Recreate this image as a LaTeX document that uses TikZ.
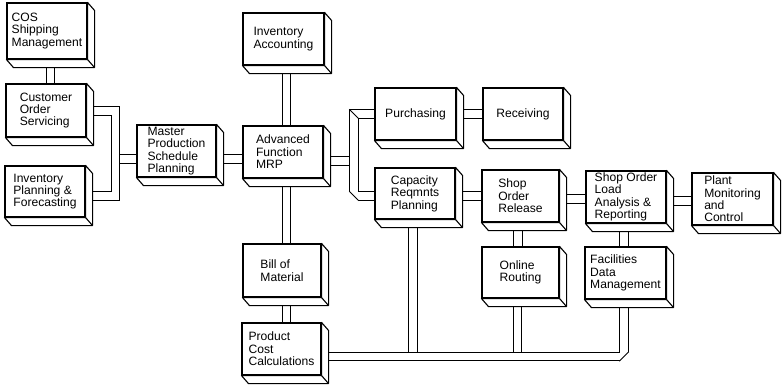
\documentclass[tikz,border=0pt]{standalone}
\usepackage{fontspec}
\setmainfont{Liberation Sans}
\pgfdeclarelayer{bg}
\pgfsetlayers{bg,main}
\tikzset{
  box/.style={draw, fill=white, line width=1.1pt, align=left, inner sep=0pt,
    font=\fontsize{12.1}{12.4}\selectfont},
  pipeo/.style={line width=9.4pt, black, line join=miter},
  pipei/.style={line width=7.4pt, white, line join=miter},
  face/.style={fill=white, draw=black, line width=1.1pt, line join=round},
  bevel/.style={line width=1pt, black},
}
\newcommand\solidify[1]{%
  \filldraw[face] (#1.north east) -- ++(7,8) -- ([shift={(7,8)}]#1.south east)
    -- ([shift={(7,8)}]#1.south west) -- (#1.south west) -- (#1.south east) -- cycle;
  \draw[face] (#1.south east) -- ++(7,8);
}
% connectors that end against another connector
\newcommand\branchpipes[1]{%
  \draw[#1] ([xshift=3.5pt]cos.south) -- ([xshift=4.5pt]cust.north);
  \draw[#1] (jL3) -- ([yshift=-8pt]mps.west);
  \draw[#1] ([yshift=-8pt]mps.east) -- ([yshift=-7pt]mrp.west);
  \draw[#1] ([xshift=3pt]inva.south) -- ([xshift=3.5pt]mrp.north);
  \draw[#1] ([xshift=3.5pt]mrp.south) -- ([xshift=4.5pt]bom.north);
  \draw[#1] ([xshift=4.5pt]bom.south) -- ([xshift=5pt]pcc.north);
  \draw[#1] ([yshift=-9pt]mrp.east) -- (jR3);
  \draw[#1] (purch.east) -- (recv.west);
  \draw[#1] ([yshift=-2.5pt]cap.east) -- (sor.west);
  \draw[#1] ([yshift=-3pt]sor.east) -- ([yshift=-2pt]sola.west);
  \draw[#1] ([yshift=-4pt]sola.east) -- ([yshift=-2pt]pmc.west);
  \draw[#1] ([xshift=-2.5pt]sor.south) -- ([xshift=-2.5pt]olr.north);
  \draw[#1] ([xshift=-2pt]sola.south) -- ([xshift=-1.5pt]fdm.north);
  \draw[#1] ([xshift=-2pt]cap.south) -- (jB1);
  \draw[#1] ([xshift=-3pt]olr.south) -- (jB2);
}
% through connectors (drawn in front)
\newcommand\mainpipes[1]{%
  \draw[#1] ([yshift=-0.5pt]cust.east) -- (jL1) -- (jL2) -- ([yshift=-4.5pt]invp.east);
  \draw[#1] (purch.west) -- (jR1) -- (jR2) -- ([yshift=-2.5pt]cap.west);
  \draw[#1] ([yshift=-7.5pt]pcc.east) -- (jB3) -- ([xshift=-1.5pt]fdm.south);
}
\begin{document}
\begin{tikzpicture}[x=1pt,y=-1pt]
\useasboundingbox (0,0) rectangle (783,384);
% boxes
\node[box, minimum width=80pt, minimum height=56pt] (cos) at (47,31) {COS\\Shipping\\Management};
\node[box, minimum width=80pt, minimum height=53pt] (cust) at (46,110.5) {Customer\\Order\\Servicing};
\node[box, minimum width=80pt, minimum height=51pt] (invp) at (45,191.5) {Inventory\\Planning \&\\Forecasting};
\node[box, minimum width=79pt, minimum height=52pt] (mps) at (176.5,151) {Master\\Production\\Schedule\\Planning};
\node[box, minimum width=81pt, minimum height=52pt] (inva) at (283.5,39) {Inventory\\Accounting};
\node[box, minimum width=80pt, minimum height=52pt] (mrp) at (283,152) {Advanced\\Function\\MRP};
\node[box, minimum width=81pt, minimum height=52pt] (purch) at (415.5,114) {Purchasing};
\node[box, minimum width=80pt, minimum height=52pt] (recv) at (523,114) {Receiving};
\node[box, minimum width=80pt, minimum height=51pt] (cap) at (415,193.5) {Capacity\\Reqmnts\\Planning};
\node[box, minimum width=78pt, minimum height=53pt] (bom) at (282,270.5) {Bill of\\Material};
\node[box, minimum width=79pt, minimum height=52pt] (pcc) at (281.5,349) {Product\\Cost\\Calculations};
\node[box, minimum width=77pt, minimum height=52pt] (sor) at (520.5,196) {Shop\\Order\\Release};
\node[box, minimum width=80pt, minimum height=52pt] (sola) at (626,197) {Shop Order\\Load\\Analysis \&\\Reporting};
\node[box, minimum width=81pt, minimum height=52pt] (pmc) at (732.5,199) {Plant\\Monitoring\\and\\Control};
\node[box, minimum width=77pt, minimum height=51pt] (olr) at (520.5,272.5) {Online\\Routing};
\node[box, minimum width=81pt, minimum height=52pt] (fdm) at (625.5,273) {Facilities\\Data\\Management};
\foreach \n in {cos,cust,invp,mps,inva,mrp,purch,recv,cap,bom,pcc,sor,sola,pmc,olr,fdm}{\solidify{\n}}
% junction points
\coordinate (jL1) at (115.5,111);
\coordinate (jL2) at (115.5,196);
\coordinate (jL3) at (115.5,159);
\coordinate (jR1) at (354,114);
\coordinate (jR2) at (354,196);
\coordinate (jR3) at (354,161);
\coordinate (jB1) at (413,356.5);
\coordinate (jB2) at (517.5,356.5);
\coordinate (jB3) at (624,356.5);
\begin{pgfonlayer}{bg}
\fill[white] (0,0) rectangle (783,384);
\branchpipes{pipeo}
\branchpipes{pipei}
\mainpipes{pipeo}
\mainpipes{pipei}
% bevels at the corners of the right-hand bracket
\draw[bevel] ([shift={(-4.7,-4.7)}]jR1) -- ([shift={(4.7,4.7)}]jR1);
\fill[white] ([shift={(-4.7,-4.7)}]jR2) -- ([shift={(4.7,4.7)}]jR2)
  -- ([shift={(4.7,6)}]jR2) -- ([shift={(-6,6)}]jR2) -- ([shift={(-6,-4.7)}]jR2) -- cycle;
\draw[bevel] ([shift={(-4.7,-4.7)}]jR2) -- ([shift={(4.7,4.7)}]jR2);
% bevel at the right end of the bottom connector
\fill[white] ([shift={(4.7,-4.7)}]jB3) -- ([shift={(-4.7,4.7)}]jB3)
  -- ([shift={(-4.7,6)}]jB3) -- ([shift={(6,6)}]jB3) -- ([shift={(6,-4.7)}]jB3) -- cycle;
\draw[bevel] ([shift={(4.7,-4.7)}]jB3) -- ([shift={(-4.7,4.7)}]jB3);
\end{pgfonlayer}
\end{tikzpicture}
\end{document}
